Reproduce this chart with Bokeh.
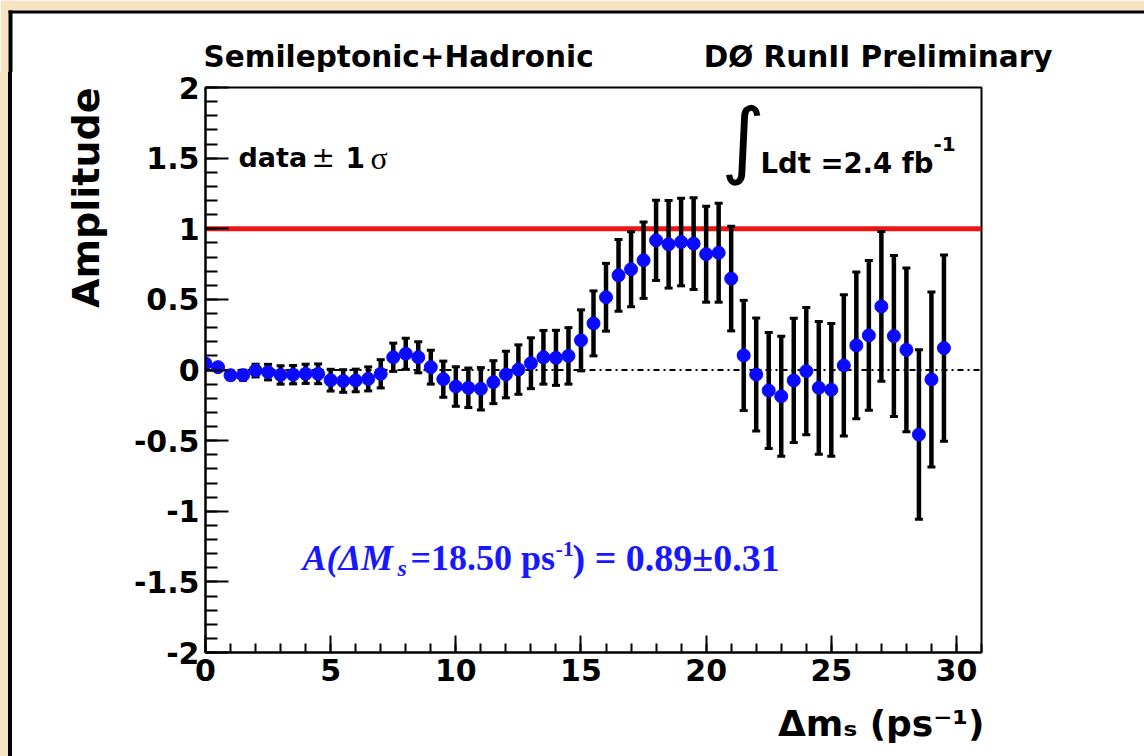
from bokeh.plotting import figure
from bokeh.layouts import column, row
from bokeh.models import (Range1d, FixedTicker, Whisker, TeeHead, Span, Label,
                          BoxAnnotation, ColumnDataSource, Div, Title)
from bokeh.embed import file_html
from bokeh.resources import INLINE

# Amplitude scan: oscillation frequency (ps^-1), fitted amplitude, 1 sigma error
dms = [0.0, 0.5, 1.0, 1.5, 2.0, 2.5, 3.0, 3.5, 4.0, 4.5,
       5.0, 5.5, 6.0, 6.5, 7.0, 7.5, 8.0, 8.5, 9.0, 9.5,
       10.0, 10.5, 11.0, 11.5, 12.0, 12.5, 13.0, 13.5, 14.0, 14.5,
       15.0, 15.5, 16.0, 16.5, 17.0, 17.5, 18.0, 18.5, 19.0, 19.5,
       20.0, 20.5, 21.0, 21.5, 22.0, 22.5, 23.0, 23.5, 24.0, 24.5,
       25.0, 25.5, 26.0, 26.5, 27.0, 27.5, 28.0, 28.5, 29.0, 29.5]
amplitude = [0.045, 0.020, -0.037, -0.037, -0.004, -0.015, -0.035, -0.033, -0.027, -0.027,
             -0.072, -0.078, -0.074, -0.063, -0.027, 0.090, 0.115, 0.090, 0.020, -0.065,
             -0.117, -0.126, -0.133, -0.086, -0.032, 0.003, 0.048, 0.090, 0.086, 0.100,
             0.210, 0.330, 0.515, 0.670, 0.713, 0.777, 0.918, 0.890, 0.906, 0.895,
             0.820, 0.830, 0.647, 0.103, -0.032, -0.145, -0.186, -0.074, -0.008, -0.126,
             -0.140, 0.032, 0.174, 0.245, 0.450, 0.240, 0.143, -0.457, -0.067, 0.155]
sigma = [0.020, 0.025, 0.030, 0.035, 0.045, 0.055, 0.065, 0.065, 0.068, 0.070,
         0.077, 0.080, 0.080, 0.085, 0.100, 0.100, 0.110, 0.110, 0.120, 0.128,
         0.140, 0.140, 0.150, 0.152, 0.165, 0.175, 0.180, 0.190, 0.195, 0.200,
         0.216, 0.230, 0.240, 0.254, 0.265, 0.270, 0.284, 0.310, 0.310, 0.325,
         0.340, 0.350, 0.370, 0.390, 0.400, 0.410, 0.425, 0.440, 0.450, 0.470,
         0.470, 0.500, 0.520, 0.530, 0.530, 0.570, 0.580, 0.600, 0.620, 0.660]

x_major_ticks = [0, 5, 10, 15, 20, 25, 30]
x_minor_ticks = [0, 1, 2, 3, 4, 5, 6, 7, 8, 9, 10, 11, 12, 13, 14, 15, 16, 17, 18,
                 19, 20, 21, 22, 23, 24, 25, 26, 27, 28, 29, 30, 31]
y_major_ticks = [-2, -1.5, -1, -0.5, 0, 0.5, 1, 1.5, 2]
y_minor_ticks = [-2.0, -1.9, -1.8, -1.7, -1.6, -1.5, -1.4, -1.3, -1.2, -1.1,
                 -1.0, -0.9, -0.8, -0.7, -0.6, -0.5, -0.4, -0.3, -0.2, -0.1,
                 0.0, 0.1, 0.2, 0.3, 0.4, 0.5, 0.6, 0.7, 0.8, 0.9,
                 1.0, 1.1, 1.2, 1.3, 1.4, 1.5, 1.6, 1.7, 1.8, 1.9, 2.0]

# page geometry (pixels)
W, H = 1144, 756
HEAD_H = 72          # height of the header strip
SIDE_W = 12          # width of the left page edge strip
FL, FR, FT, FB = 205, 981, 87, 652   # frame edges on the page
CREAM = "#f7e3c3"
FONT = "DejaVu Sans"
SERIF = "Liberation Serif"


def bare_fig(w, h, xr, yr):
    f = figure(width=w, height=h, x_range=xr, y_range=yr, min_border=0,
               x_axis_location=None, y_axis_location=None,
               output_backend="svg", toolbar_location=None, title=None)
    f.xgrid.visible = False
    f.ygrid.visible = False
    f.outline_line_color = None
    f.background_fill_color = "white"
    f.border_fill_color = "white"
    return f


def box(f, l, r, b, t, color):
    f.add_layout(BoxAnnotation(left=l, right=r, bottom=b, top=t,
                               fill_color=color, fill_alpha=1.0, line_color=None))


# ---- header strip with the page edge and the two captions
head = bare_fig(W, HEAD_H, Range1d(0, W), Range1d(HEAD_H, 0))
box(head, 0, W, 10, 0, CREAM)
box(head, 0, 8, HEAD_H, 0, CREAM)
box(head, 8, W, 13, 10, "black")
box(head, 8, 12, HEAD_H, 10, "black")
for caption, cx, align in [("Semileptonic+Hadronic", 203, "left"),
                           ("DØ RunII Preliminary", 1052, "right")]:
    head.add_layout(Label(x=cx, y=56, text=caption, text_font=FONT,
                          text_font_size="29.5px", text_font_style="bold",
                          text_color="black", text_align=align,
                          text_baseline="alphabetic"))

# ---- left page edge
side_h = H - HEAD_H
side = Div(text="", width=SIDE_W, height=side_h, margin=0,
           styles={"background": f"linear-gradient(to right, {CREAM} 8px, #000000 8px)"})

# ---- amplitude plot
lower = [a - s for a, s in zip(amplitude, sigma)]
upper = [a + s for a, s in zip(amplitude, sigma)]
src = ColumnDataSource(data=dict(x=dms, amp=amplitude, lo=lower, hi=upper))

p = figure(frame_width=FR - FL, frame_height=FB - FT,
           min_border_left=FL - SIDE_W, min_border_right=W - FR,
           min_border_top=FT - HEAD_H, min_border_bottom=H - FB,
           x_range=Range1d(0, 31), y_range=Range1d(-2, 2),
           output_backend="svg", toolbar_location=None, title=None)
p.background_fill_color = "white"
p.border_fill_color = "white"
p.outline_line_color = "black"
p.outline_line_width = 2
p.xgrid.visible = False
p.ygrid.visible = False

for ax in (p.xaxis[0], p.yaxis[0]):
    ax.axis_line_width = 2
    ax.major_tick_line_width = 2
    ax.minor_tick_line_width = 2
    ax.major_tick_out = 0
    ax.minor_tick_out = 0
    ax.major_label_text_font = FONT
    ax.major_label_text_font_style = "bold"
    ax.major_label_text_font_size = "30px"
    ax.major_label_text_color = "black"

p.xaxis.ticker = FixedTicker(ticks=x_major_ticks, minor_ticks=x_minor_ticks)
p.xaxis.major_tick_in = 17
p.xaxis.minor_tick_in = 9
p.xaxis.major_label_standoff = 6
p.xaxis.major_label_overrides = {t: str(t) for t in x_major_ticks}

p.yaxis.ticker = FixedTicker(ticks=y_major_ticks, minor_ticks=y_minor_ticks)
p.yaxis.major_tick_in = 23
p.yaxis.minor_tick_in = 12
p.yaxis.major_label_standoff = 6
p.yaxis.major_label_overrides = {t: ("%g" % t) for t in y_major_ticks}

# axis titles, flush with the far ends of the axes
p.add_layout(Title(text="Amplitude", align="right", standoff=46,
                   text_font=FONT, text_font_size="38px", text_font_style="bold",
                   text_color="black"), "left")
p.add_layout(Title(text="Δmₛ (ps⁻¹)", align="right", offset=-3, standoff=34,
                   text_font=FONT, text_font_size="36px", text_font_style="bold",
                   text_color="black"), "below")

# reference lines: amplitude = 1 and amplitude = 0
p.add_layout(Span(location=1, dimension="width", line_color="#ee1515",
                  line_width=5, level="underlay"))
p.add_layout(Span(location=0, dimension="width", line_color="black",
                  line_width=2, line_dash="6 4 2 4", level="underlay"))

# +-1 sigma error bars and data points
cap = dict(size=8, line_width=3, line_color="black")
p.add_layout(Whisker(base="x", lower="lo", upper="hi", source=src,
                     line_color="black", line_width=4.5, level="underlay",
                     upper_head=TeeHead(**cap), lower_head=TeeHead(**cap)))
p.scatter("x", "amp", source=src, size=13, color="#0a0aff", line_color="#0a0aff")


def txt(s, px, py, size, style="bold", color="black", font=FONT,
        align="left", baseline="alphabetic"):
    # place a text by its page position, relative to the plot frame
    p.add_layout(Label(x=px - FL, y=FB - py, x_units="screen", y_units="screen",
                       text=s, text_font=font, text_font_size=f"{size}px",
                       text_font_style=style, text_color=color,
                       text_align=align, text_baseline=baseline))


# legend text
txt("data", 238, 157, 27)
txt("±", 311, 157, 28, style="normal")
txt("1", 345, 157, 28)
txt("σ", 370, 157, 32, style="normal", font=SERIF)

# luminosity
txt("∫", 743, 138, 84, style="normal", align="center", baseline="middle")
txt("Ldt =2.4 fb", 760, 162, 27.5)
txt("-1", 933, 143, 20)

# fitted amplitude at the expected frequency
BLUE = "#1818ff"
txt("A(ΔM", 302, 557, 36, style="bold italic", color=BLUE, font=SERIF)
txt("s", 397, 567, 24, style="bold italic", color=BLUE, font=SERIF)
txt("=18.50 ps", 410, 557, 36, color=BLUE, font=SERIF)
txt("-1", 555, 548, 22, color=BLUE, font=SERIF)
txt(") = 0.89±0.31", 572, 557, 38, color=BLUE, font=SERIF)

page = column(head, row(side, p, spacing=0), spacing=0)
open("out.html", "w").write(file_html(page, INLINE))
